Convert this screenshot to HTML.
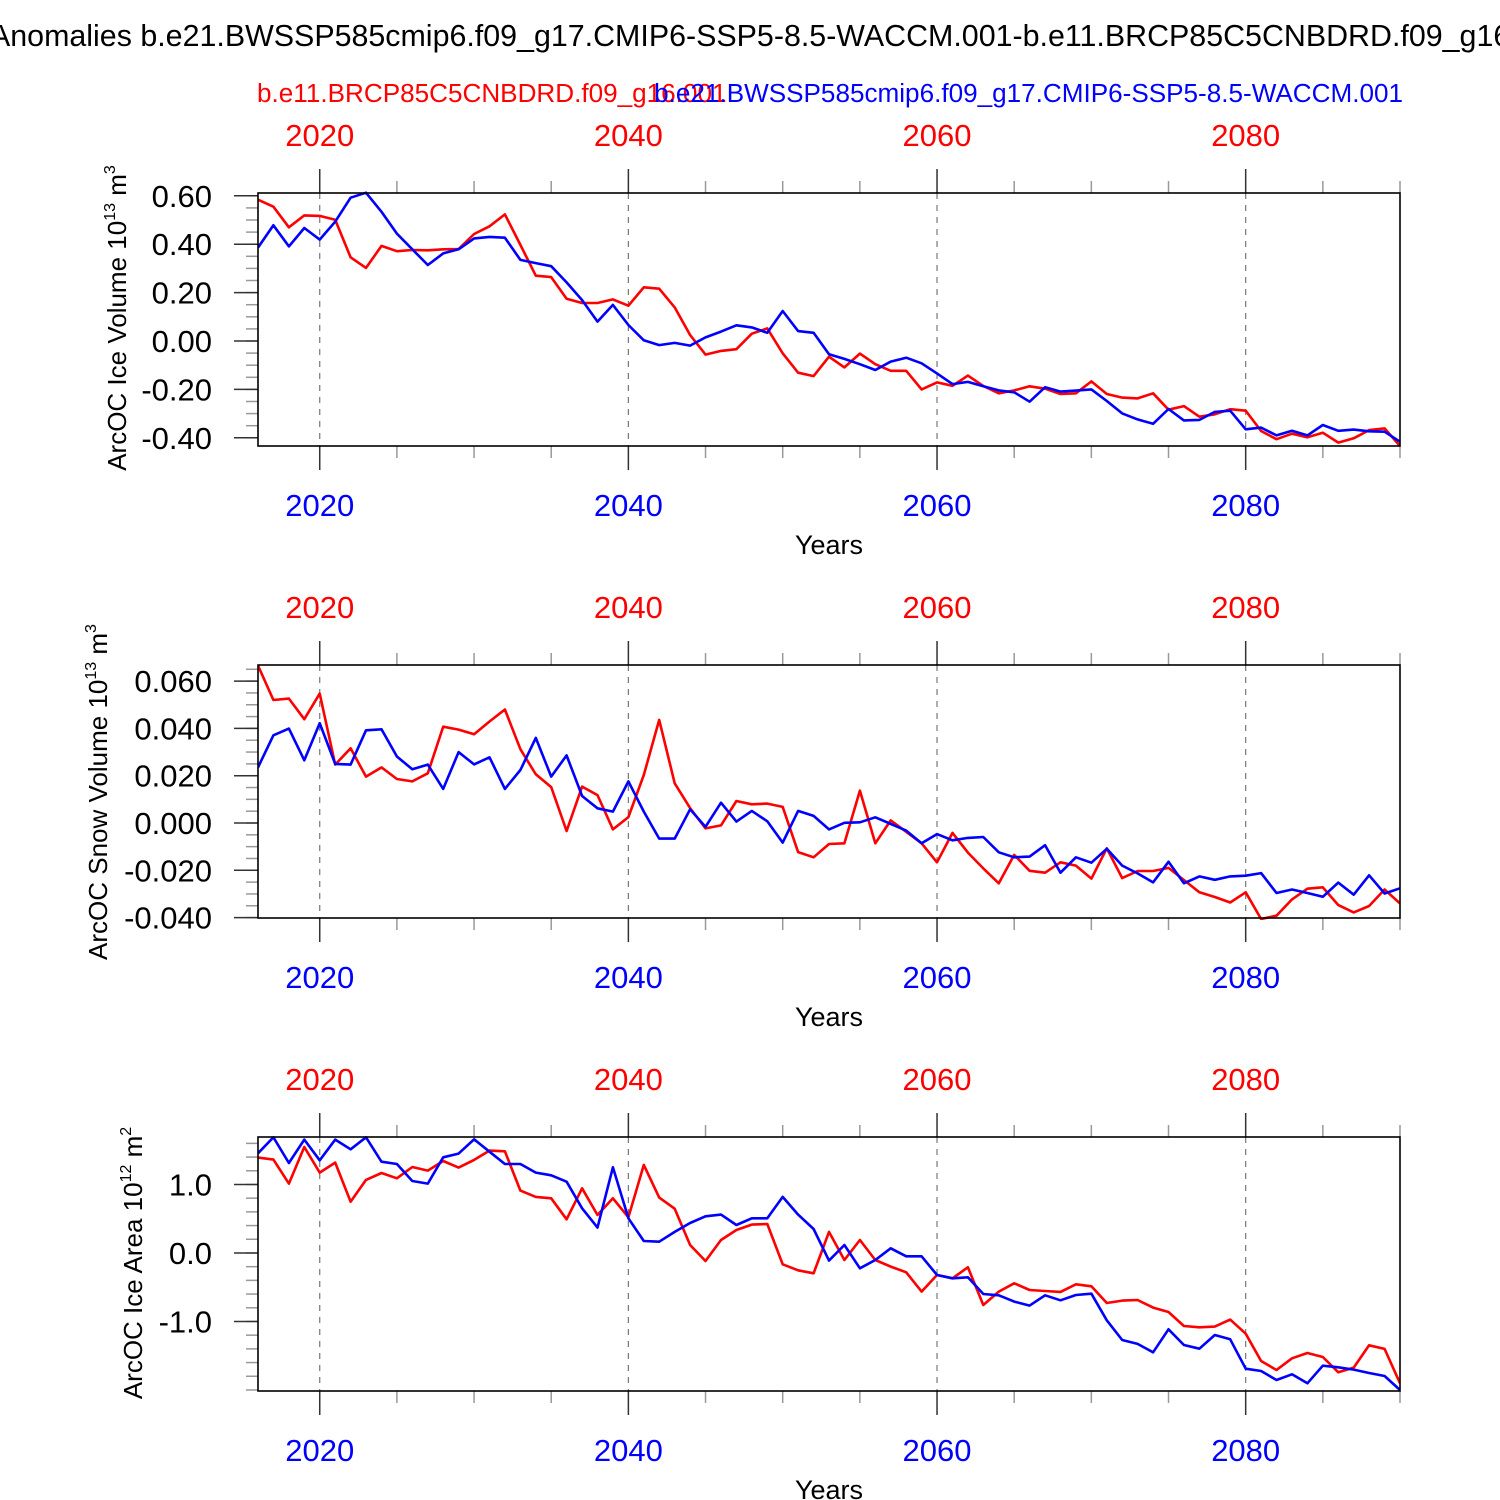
<!DOCTYPE html>
<html><head><meta charset="utf-8"><style>
html,body{margin:0;padding:0;background:#fff;}
svg{display:block;font-family:"Liberation Sans",Arial,sans-serif;}
</style></head><body>
<svg id="chart" width="1500" height="1500" viewBox="0 0 1500 1500" xmlns="http://www.w3.org/2000/svg">
<text x="-10" y="46" font-size="30.4" fill="#000">Anomalies b.e21.BWSSP585cmip6.f09_g17.CMIP6-SSP5-8.5-WACCM.001-b.e11.BRCP85C5CNBDRD.f09_g16.001</text>
<text x="257" y="102" font-size="26.1" fill="#ff0000">b.e11.BRCP85C5CNBDRD.f09_g16.001</text>
<text x="1403" y="102" font-size="26.1" fill="#0000ff" text-anchor="end">b.e21.BWSSP585cmip6.f09_g17.CMIP6-SSP5-8.5-WACCM.001</text>
<g id="plots"></g>
</svg>
<script>
const years = Array.from({length: 75}, (_, i) => 2016 + i);
const decadeTicks = [2020, 2040, 2060, 2080];
const iceVolRed = [0.584,0.555,0.470,0.519,0.517,0.501,0.346,0.302,0.393,0.371,0.376,0.375,0.379,0.380,0.442,0.474,0.523,0.397,0.270,0.264,0.175,0.157,0.157,0.172,0.146,0.222,0.216,0.139,0.025,-0.056,-0.041,-0.034,0.030,0.052,-0.051,-0.131,-0.145,-0.065,
-0.109,-0.052,-0.096,-0.123,-0.123,-0.200,-0.171,-0.185,-0.143,-0.186,-0.216,-0.204,-0.187,-0.197,-0.219,-0.216,-0.167,-0.219,-0.234,-0.237,-0.216,-0.284,-0.269,-0.313,-0.303,-0.282,-0.288,-0.372,-0.406,-0.383,-0.398,-0.379,-0.420,-0.402,-0.368,-0.361,-0.434];
const iceVolBlue = [0.386,0.478,0.391,0.467,0.419,0.493,0.592,0.613,0.534,0.444,0.379,0.314,0.362,0.379,0.424,0.430,0.427,0.335,0.322,0.309,0.242,0.169,0.080,0.149,0.066,0.003,-0.017,-0.008,-0.019,0.015,0.039,0.065,0.056,0.034,0.124,0.041,0.034,-0.055,
-0.074,-0.096,-0.120,-0.085,-0.069,-0.092,-0.134,-0.178,-0.169,-0.187,-0.204,-0.212,-0.251,-0.191,-0.209,-0.205,-0.200,-0.248,-0.299,-0.324,-0.342,-0.281,-0.328,-0.326,-0.293,-0.288,-0.365,-0.358,-0.390,-0.371,-0.390,-0.347,-0.371,-0.366,-0.373,-0.375,-0.416];
const snowRed = [0.0666,0.0520,0.0526,0.0439,0.0547,0.0247,0.0316,0.0196,0.0235,0.0186,0.0176,0.0210,0.0407,0.0395,0.0375,0.0429,0.0480,0.0312,0.0206,0.0152,-0.0034,0.0154,0.0118,-0.0027,0.0025,0.0203,0.0436,0.0168,0.0063,-0.0023,-0.0010,0.0093,0.0079,0.0082,0.0068,-0.0123,-0.0145,-0.0089,
-0.0086,0.0137,-0.0086,0.0011,-0.0037,-0.0086,-0.0166,-0.0042,-0.0125,-0.0192,-0.0255,-0.0135,-0.0202,-0.0210,-0.0166,-0.0180,-0.0235,-0.0107,-0.0233,-0.0203,-0.0203,-0.0190,-0.0241,-0.0293,-0.0313,-0.0336,-0.0293,-0.0406,-0.0392,-0.0323,-0.0278,-0.0272,-0.0347,-0.0378,-0.0351,-0.0281,-0.0340];
const snowBlue = [0.0235,0.0371,0.0399,0.0265,0.0422,0.0250,0.0247,0.0392,0.0396,0.0281,0.0227,0.0247,0.0144,0.0300,0.0248,0.0278,0.0144,0.0224,0.0360,0.0196,0.0286,0.0114,0.0062,0.0048,0.0176,0.0048,-0.0066,-0.0066,0.0058,-0.0016,0.0086,0.0006,0.0051,0.0007,-0.0083,0.0051,0.0030,-0.0027,
0.0001,0.0003,0.0024,-0.0004,-0.0032,-0.0086,-0.0047,-0.0073,-0.0063,-0.0059,-0.0124,-0.0145,-0.0142,-0.0094,-0.0210,-0.0145,-0.0168,-0.0109,-0.0180,-0.0213,-0.0251,-0.0164,-0.0255,-0.0226,-0.0240,-0.0226,-0.0223,-0.0212,-0.0296,-0.0281,-0.0296,-0.0312,-0.0252,-0.0303,-0.0221,-0.0298,-0.0276];
const areaRed = [1.392,1.363,1.012,1.547,1.173,1.319,0.749,1.066,1.168,1.090,1.255,1.202,1.343,1.246,1.358,1.494,1.484,0.910,0.818,0.798,0.491,0.944,0.555,0.798,0.521,1.285,0.808,0.647,0.117,-0.117,0.190,0.336,0.414,0.423,-0.165,-0.253,-0.297,0.307,
-0.102,0.190,-0.102,-0.199,-0.282,-0.564,-0.321,-0.370,-0.209,-0.759,-0.564,-0.443,-0.540,-0.555,-0.569,-0.457,-0.487,-0.730,-0.696,-0.686,-0.798,-0.861,-1.066,-1.085,-1.075,-0.973,-1.178,-1.577,-1.708,-1.538,-1.460,-1.518,-1.742,-1.674,-1.348,-1.401,-1.903];
const areaBlue = [1.455,1.689,1.314,1.655,1.353,1.655,1.513,1.689,1.333,1.299,1.051,1.012,1.397,1.450,1.659,1.479,1.299,1.299,1.173,1.134,1.041,0.652,0.370,1.251,0.506,0.175,0.165,0.307,0.438,0.535,0.560,0.409,0.506,0.506,0.818,0.560,0.350,-0.112,
0.117,-0.224,-0.102,0.068,-0.049,-0.049,-0.321,-0.370,-0.355,-0.599,-0.618,-0.710,-0.769,-0.618,-0.691,-0.613,-0.594,-0.983,-1.270,-1.328,-1.450,-1.114,-1.343,-1.397,-1.197,-1.260,-1.689,-1.723,-1.854,-1.771,-1.903,-1.645,-1.669,-1.703,-1.752,-1.796,-2.000];
const iceVolTicks = [0.6,0.4,0.2,0.0,-0.2,-0.4];
const snowTicks = [0.06,0.04,0.02,0.0,-0.02,-0.04];
const areaTicks = [1.0,0.0,-1.0];

const NS = 'http://www.w3.org/2000/svg';
const root = document.getElementById('plots');
const X0 = 258, X1 = 1400, YR0 = 2016, YR1 = 2090;
function xScale(yr){ return X0 + (yr - YR0) * (X1 - X0) / (YR1 - YR0); }
function mk(tag, attrs, parent){
  const e = document.createElementNS(NS, tag);
  for (const k in attrs) e.setAttribute(k, attrs[k]);
  (parent || root).appendChild(e);
  return e;
}
const panels = [
  {id:'ice-volume', top:193, bot:446, vmax:0.6116, vmin:-0.4339, ticks:iceVolTicks, minor:0.05, dec:2, red:iceVolRed, blue:iceVolBlue, tx:117, ty:318, title:'ArcOC Ice Volume 10', sup1:'13', unit:' m', sup2:'3'},
  {id:'snow-volume', top:665, bot:918, vmax:0.06681, vmin:-0.04017, ticks:snowTicks, minor:0.005, dec:3, red:snowRed, blue:snowBlue, tx:98, ty:792, title:'ArcOC Snow Volume 10', sup1:'13', unit:' m', sup2:'3'},
  {id:'ice-area', top:1137, bot:1391, vmax:1.693, vmin:-2.015, ticks:areaTicks, minor:0.2, dec:1, red:areaRed, blue:areaBlue, tx:133, ty:1263, title:'ArcOC Ice Area 10', sup1:'12', unit:' m', sup2:'2'}
];
panels.forEach(p => {
  const g = mk('g', {});
  
  
  const yS = v => p.bot - (v - p.vmin) * (p.bot - p.top) / (p.vmax - p.vmin);
  decadeTicks.forEach(d => {
    const l = mk('line', {x1:xScale(d), x2:xScale(d), y1:p.top, y2:p.bot, stroke:'#777', 'stroke-width':1.2, 'stroke-dasharray':'6,6'}, g);
    
    
  });
  for (let yr = 2020; yr <= 2090; yr += 5) {
    const major = yr % 20 === 0;
    const len = major ? 24 : 12;
    const x = xScale(yr);
    const t1 = mk('line', {x1:x, x2:x, y1:p.top - len, y2:p.top, stroke:major?'#333':'#999', 'stroke-width':1.5}, g);
    
    
    const t2 = mk('line', {x1:x, x2:x, y1:p.bot, y2:p.bot + len, stroke:major?'#333':'#999', 'stroke-width':1.5}, g);
    
    
  }
  decadeTicks.forEach(d => {
    const a = mk('text', {x:xScale(d), y:p.top - 47, 'font-size':31, fill:'#ff0000', 'text-anchor':'middle'}, g);
    a.textContent = d;
    
    
    const b = mk('text', {x:xScale(d), y:p.bot + 70, 'font-size':31, fill:'#0000ff', 'text-anchor':'middle'}, g);
    b.textContent = d;
    
    
  });
  const xt = mk('text', {x:829, y:p.bot + 108, 'font-size':27, fill:'#000', 'text-anchor':'middle'}, g);
  xt.textContent = 'Years';
  
  
  const nMin = Math.ceil(p.vmin / p.minor - 1e-6), nMax = Math.floor(p.vmax / p.minor + 1e-6);
  for (let k = nMin; k <= nMax; k++) {
    const v = k * p.minor;
    const t = mk('line', {x1:X0 - 12, x2:X0, y1:yS(v), y2:yS(v), stroke:'#999', 'stroke-width':1.5}, g);
    
    
  }
  p.ticks.forEach(v => {
    const t = mk('line', {x1:X0 - 24, x2:X0, y1:yS(v), y2:yS(v), stroke:'#333', 'stroke-width':1.5}, g);
    
    
    const lb = mk('text', {x:212, y:yS(v) + 11, 'font-size':31, fill:'#000', 'text-anchor':'end'}, g);
    lb.textContent = v.toFixed(p.dec);
    
    
  });
  const yt = mk('text', {x:0, y:0, 'font-size':26, fill:'#000', 'text-anchor':'middle', transform:'translate(' + (p.tx + 9) + ',' + p.ty + ') rotate(-90)'}, g);
  
  
  const s0 = mk('tspan', {}, yt); s0.textContent = p.title;
  const s1 = mk('tspan', {dy:-11, 'font-size':16}, yt); s1.textContent = p.sup1;
  const s2 = mk('tspan', {dy:11}, yt); s2.textContent = p.unit;
  const s3 = mk('tspan', {dy:-11, 'font-size':16}, yt); s3.textContent = p.sup2;
  const clipId = 'clip-' + p.id;
  const cp = mk('clipPath', {id:clipId}, g);
  mk('rect', {x:X0, y:p.top - 2, width:X1 - X0, height:p.bot - p.top + 4}, cp);
  [['red', p.red, '#ff0000'], ['blue', p.blue, '#0000ff']].forEach(([nm, arr, col]) => {
    const pts = arr.map((v, i) => xScale(years[i]).toFixed(1) + ',' + yS(v).toFixed(1)).join(' ');
    const pl = mk('polyline', {points:pts, fill:'none', stroke:col, 'stroke-width':2.6, 'stroke-linejoin':'round', 'clip-path':'url(#' + clipId + ')'}, g);
    
    
  });
  const fr = mk('rect', {x:X0, y:p.top, width:X1 - X0, height:p.bot - p.top, fill:'none', stroke:'#000', 'stroke-width':1.6}, g);
  
  
});
</script>
</body></html>
